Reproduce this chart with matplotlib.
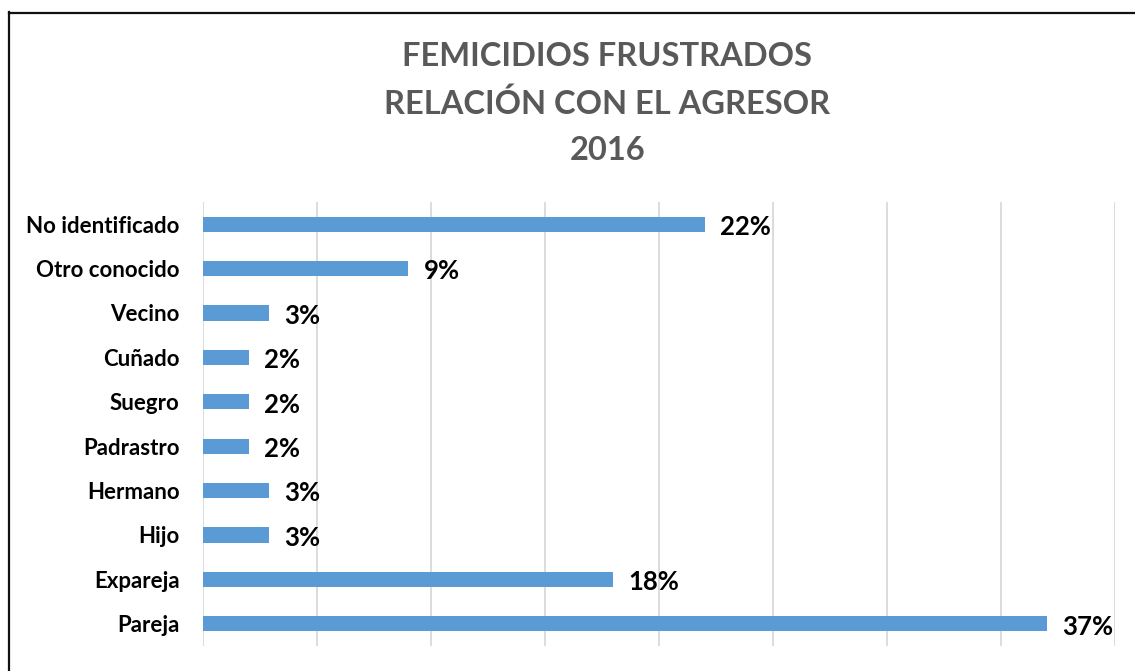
import matplotlib.pyplot as plt
from matplotlib.lines import Line2D

# Data (bottom to top)
categorias = ['Pareja', 'Expareja', 'Hijo', 'Hermano', 'Padrastro',
              'Suegro', 'Cuñado', 'Vecino', 'Otro conocido', 'No identificado']
porcentajes = [37.0, 18.0, 2.9, 2.9, 2.0, 2.0, 2.0, 2.9, 9.0, 22.0]

titulo = ['FEMICIDIOS FRUSTRADOS', 'RELACIÓN CON EL AGRESOR', '2016']

plt.rcParams['font.family'] = ['Lato', 'DejaVu Sans']

fig = plt.figure(figsize=(11.35, 6.71), dpi=100)
ax = fig.add_axes([0.1789, 0.0373, 0.8035, 0.6617])

y = range(len(categorias))
ax.barh(y, porcentajes, height=0.34, color='#5B9BD5', zorder=3)

# data labels
for i, v in zip(y, porcentajes):
    ax.annotate(f'{v:.0f}%', (v, i), xytext=(11, -2), textcoords='offset points',
                va='center', ha='left', fontsize=18.5, fontweight='bold', color='black')

ax.set_xlim(0, 40)
ax.set_ylim(-0.5, len(categorias) - 0.5)
ax.set_xticks(range(0, 41, 5))
ax.set_xticklabels([])
ax.set_yticks(list(y))
ax.set_yticklabels(categorias, fontsize=16, fontweight='bold', color='black')
ax.tick_params(axis='both', length=0)
ax.tick_params(axis='y', pad=17)
ax.grid(axis='x', color='#D9D9D9', linewidth=1.3, zorder=0)
for s in ax.spines.values():
    s.set_visible(False)

# title, one line at a time
for linea, ypix in zip(titulo, [56, 104, 150]):
    fig.text(0.535, 1 - ypix / 671, linea, ha='center', va='center', fontsize=23.5,
             fontweight='bold', color='#595959')

# chart frame (left and top edges visible)
fig.add_artist(Line2D([8.5 / 1135, 8.5 / 1135], [0, 1 - 12 / 671], color='#111111', lw=1.6))
fig.add_artist(Line2D([8.5 / 1135, 1], [1 - 12.5 / 671, 1 - 12.5 / 671], color='#111111', lw=1.6))

plt.savefig('out.png', dpi=100)
